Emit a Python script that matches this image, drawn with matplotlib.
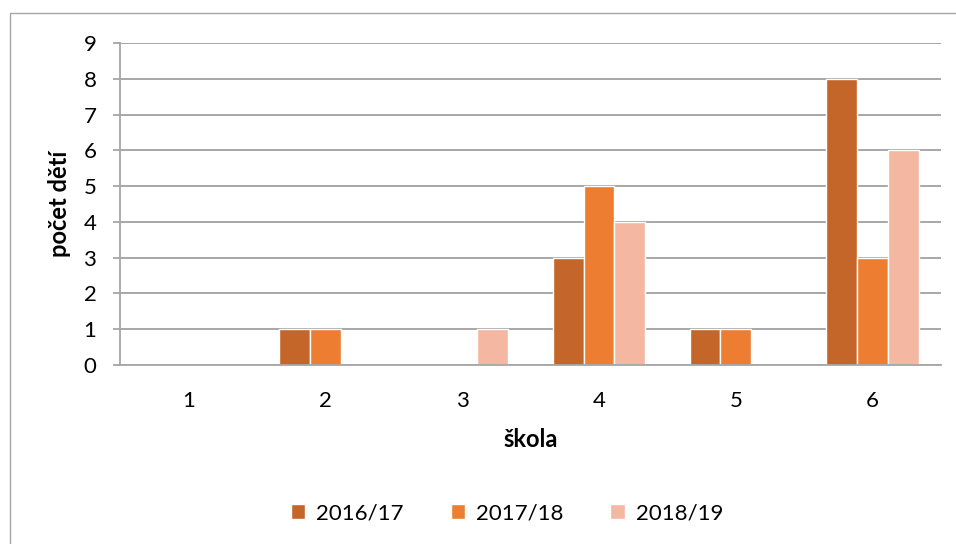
import numpy as np
import matplotlib.pyplot as plt
from matplotlib.patches import Rectangle

plt.rcParams['font.family'] = ['Lato', 'DejaVu Sans']

# data
skoly = ['1', '2', '3', '4', '5', '6']
roky = ['2016/17', '2017/18', '2018/19']
r2016 = [0, 1, 0, 3, 1, 8]
r2017 = [0, 1, 0, 5, 1, 3]
r2018 = [0, 0, 1, 4, 0, 6]
barvy = ['#C4652A', '#ED7D31', '#F4B7A2']

fig = plt.figure(figsize=(9.56, 5.44), dpi=100)
ax = fig.add_axes([120/956, 1 - 365/544, (941-120)/956, (365-43)/544])

# outer chart frame
fig.patches.append(Rectangle((10/956, -0.1), 1.0, 1 + 0.1 - 13/544,
                             transform=fig.transFigure, fill=False,
                             edgecolor='#a6a6a6', linewidth=1))

x = np.arange(len(skoly))
w = 0.225
for i, (vals, lab) in enumerate(zip([r2016, r2017, r2018], roky)):
    ax.bar(x + (i - 1) * w, vals, w, color=barvy[i], edgecolor='white',
           linewidth=1, label=lab, zorder=2)

ax.set_xlim(-0.5, 5.5)
ax.set_ylim(0, 9)
ax.set_yticks(range(0, 10))
ax.set_xticks(x)
ax.set_xticklabels(skoly)
ax.grid(axis='y', color='#a0a0a0', linewidth=1.3, zorder=0)
for s in ['top', 'right']:
    ax.spines[s].set_visible(False)
for s in ['left', 'bottom']:
    ax.spines[s].set_color('#a6a6a6')
    ax.spines[s].set_linewidth(1.3)
    ax.spines[s].set_zorder(3)
ax.tick_params(axis='y', length=5, color='#a6a6a6', width=1.3, pad=12, labelsize=16)
ax.tick_params(axis='x', length=0, pad=19, labelsize=16)

ax.set_xlabel('škola', fontsize=17, fontweight='bold', labelpad=12)
ax.set_ylabel('počet dětí', fontsize=17, fontweight='bold', labelpad=9)

fig.legend(loc='center', bbox_to_anchor=(507/956, 1 - 513/544), ncol=3,
           frameon=False, fontsize=16, handlelength=0.65, handleheight=0.65,
           columnspacing=2.1, handletextpad=0.5)

fig.savefig('out.png', dpi=100)
